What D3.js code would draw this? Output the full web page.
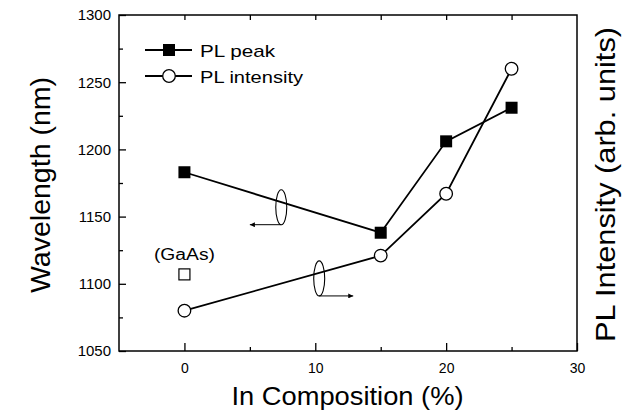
<!DOCTYPE html>
<html>
<head>
<meta charset="utf-8">
<script src="https://cdn.jsdelivr.net/npm/d3@7"></script>
<style>
  body { margin: 0; background: #fff; }
  svg { display: block; font-family: "Liberation Sans", Arial, sans-serif; }
</style>
</head>
<body>
<svg width="637" height="414"></svg>
<script>
const composition = [0, 15, 20, 25];
const plPeak = [1183, 1138, 1206, 1231];
const plIntensity = [1080, 1121, 1167, 1260];

const gaasComposition = [0];
const gaasWavelength = [1107];

const xMajorTicks = [0, 10, 20, 30];
const xMinorTicks = [5, 15, 25];
const xTopTicks = [0, 5, 10, 15, 20, 25];
const yMajorTicks = [1050, 1100, 1150, 1200, 1250, 1300];
const yMinorTicks = [1075, 1125, 1175, 1225, 1275];

// ellipse markers and which way their arrow points
const markerComposition = [7.4, 10.3];
const markerWavelength = [1157, 1104];
const arrowEnd = [5.0, 12.9];

const svg = d3.select('svg');
const margin = {left: 119, right: 60, top: 15, bottom: 63};
const width = 637, height = 414;

const x = d3.scaleLinear().domain([-5, 30]).range([margin.left, width - margin.right]);
const y = d3.scaleLinear().domain([1050, 1300]).range([height - margin.bottom, margin.top]);

const defs = svg.append('defs');
defs.append('marker')
  .attr('id', 'arrow')
  .attr('viewBox', '0 0 10 10')
  .attr('refX', 10).attr('refY', 5)
  .attr('markerWidth', 6).attr('markerHeight', 5)
  .attr('markerUnits', 'userSpaceOnUse')
  .attr('orient', 'auto')
  .append('path').attr('d', 'M0,0L10,5L0,10Z').attr('fill', '#000');

// frame
svg.append('rect')
  .attr('x', x(-5)).attr('y', y(1300))
  .attr('width', x(30) - x(-5)).attr('height', y(1050) - y(1300))
  .attr('fill', 'none').attr('stroke', '#000').attr('stroke-width', 1.5);

function style(g) {
  g.select('.domain').remove();
  g.selectAll('line').attr('stroke', '#000').attr('stroke-width', 1.3);
  g.selectAll('text').attr('fill', '#000');
}

svg.append('g')
  .attr('transform', `translate(0,${y(1050)})`)
  .call(d3.axisBottom(x).tickValues(xMajorTicks).tickSize(-8).tickPadding(12).tickFormat(d3.format('d')))
  .call(style)
  .selectAll('text').attr('font-size', 14);

svg.append('g')
  .attr('transform', `translate(0,${y(1050)})`)
  .call(d3.axisBottom(x).tickValues(xMinorTicks).tickSize(-4).tickFormat(''))
  .call(style);

svg.append('g')
  .attr('transform', `translate(0,${y(1300)})`)
  .call(d3.axisTop(x).tickValues(xTopTicks).tickSize(-5).tickFormat(''))
  .call(style);

svg.append('g')
  .attr('transform', `translate(${x(-5)},0)`)
  .call(d3.axisLeft(y).tickValues(yMajorTicks).tickSize(-7).tickPadding(8).tickFormat(d3.format('d')))
  .call(style)
  .selectAll('text').attr('font-size', 15);

svg.append('g')
  .attr('transform', `translate(${x(-5)},0)`)
  .call(d3.axisLeft(y).tickValues(yMinorTicks).tickSize(-4).tickFormat(''))
  .call(style);

// series lines
const line = d3.line().x(d => x(d[0])).y(d => y(d[1]));
const peakPts = composition.map((c, i) => [c, plPeak[i]]);
const intPts = composition.map((c, i) => [c, plIntensity[i]]);

svg.append('path').attr('d', line(intPts))
  .attr('fill', 'none').attr('stroke', '#000').attr('stroke-width', 1.8);
svg.append('path').attr('d', line(peakPts))
  .attr('fill', 'none').attr('stroke', '#000').attr('stroke-width', 1.8);

svg.selectAll('.sq').data(peakPts).join('rect')
  .attr('x', d => x(d[0]) - 6).attr('y', d => y(d[1]) - 6)
  .attr('width', 12).attr('height', 12).attr('fill', '#000');

svg.selectAll('.ci').data(intPts).join('circle')
  .attr('cx', d => x(d[0])).attr('cy', d => y(d[1])).attr('r', 6.3)
  .attr('fill', '#fff').attr('stroke', '#000').attr('stroke-width', 1.3);

// GaAs reference point
svg.selectAll('.gaas').data(gaasComposition).join('rect')
  .attr('x', (d, i) => x(d) - 5.5).attr('y', (d, i) => y(gaasWavelength[i]) - 5.5)
  .attr('width', 11).attr('height', 11)
  .attr('fill', '#fff').attr('stroke', '#000').attr('stroke-width', 1.2);
svg.append('text')
  .attr('x', x(gaasComposition[0])).attr('y', y(gaasWavelength[0]) - 14)
  .attr('text-anchor', 'middle').attr('font-size', 16)
  .attr('textLength', 61).attr('lengthAdjust', 'spacingAndGlyphs')
  .text('(GaAs)');

// axis ellipses with arrows
markerComposition.forEach((c, i) => {
  const cx = x(c), cy = y(markerWavelength[i]);
  svg.append('ellipse')
    .attr('cx', cx).attr('cy', cy).attr('rx', 5.5).attr('ry', 17.5)
    .attr('fill', 'none').attr('stroke', '#000').attr('stroke-width', 1.1);
  svg.append('line')
    .attr('x1', cx).attr('y1', cy + 17.5)
    .attr('x2', x(arrowEnd[i])).attr('y2', cy + 17.5)
    .attr('stroke', '#000').attr('stroke-width', 1)
    .attr('marker-end', 'url(#arrow)');
});

// legend
const legend = svg.append('g');
[['PL peak', 50, 'sq'], ['PL intensity', 76, 'ci']].forEach(([label, ly, kind], i) => {
  legend.append('line').attr('x1', 145).attr('x2', 192).attr('y1', ly).attr('y2', ly)
    .attr('stroke', '#000').attr('stroke-width', 1.8);
  if (kind === 'sq') {
    legend.append('rect').attr('x', 163).attr('y', ly - 6).attr('width', 12).attr('height', 12).attr('fill', '#000');
  } else {
    legend.append('circle').attr('cx', 169).attr('cy', ly).attr('r', 6.3)
      .attr('fill', '#fff').attr('stroke', '#000').attr('stroke-width', 1.3);
  }
  legend.append('text').attr('x', 200).attr('y', ly + 6.5)
    .attr('font-size', 17)
    .attr('textLength', i === 0 ? 75 : 103).attr('lengthAdjust', 'spacingAndGlyphs')
    .text(label);
});

// axis titles
svg.append('text')
  .attr('x', 347.5).attr('y', 405)
  .attr('text-anchor', 'middle').attr('font-size', 26)
  .attr('textLength', 232).attr('lengthAdjust', 'spacingAndGlyphs')
  .text('In Composition (%)');

svg.append('text')
  .attr('transform', 'translate(50,185) rotate(-90)')
  .attr('text-anchor', 'middle').attr('font-size', 28)
  .attr('textLength', 216).attr('lengthAdjust', 'spacingAndGlyphs')
  .text('Wavelength (nm)');

svg.append('text')
  .attr('transform', 'translate(615,184.5) rotate(-90)')
  .attr('text-anchor', 'middle').attr('font-size', 28)
  .attr('textLength', 315).attr('lengthAdjust', 'spacingAndGlyphs')
  .text('PL Intensity (arb. units)');
</script>
</body>
</html>
